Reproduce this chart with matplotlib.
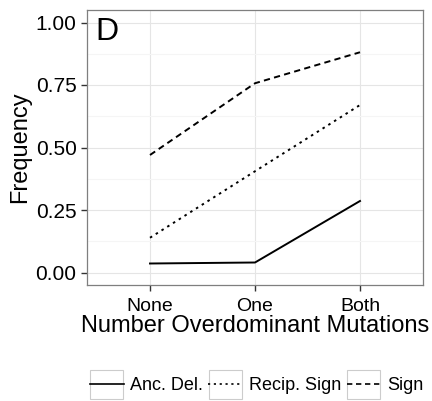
import matplotlib
matplotlib.use("Agg")
import matplotlib.pyplot as plt
from matplotlib.patches import Rectangle

plt.rcParams['font.family'] = ['Liberation Sans', 'DejaVu Sans']

# data
categories = ["None", "One", "Both"]
anc_del = [0.036, 0.040, 0.286]
recip_sign = [0.139, 0.405, 0.670]
sign = [0.470, 0.757, 0.881]
series_names = ["Anc. Del.", "Recip. Sign", "Sign"]

fig = plt.figure(figsize=(4.32, 4.01), dpi=100)
ax = fig.add_axes([87/432, 1-285/401, 336/432, 275/401])

x = range(1, len(categories) + 1)
h1, = ax.plot(x, anc_del, color='black', lw=1.4, linestyle='-')
h2, = ax.plot(x, recip_sign, color='black', lw=1.4, linestyle=(0, (1.3, 2.2)))
h3, = ax.plot(x, sign, color='black', lw=1.4, linestyle=(0, (3.2, 2.2)))

ax.set_xlim(0.4, 3.6)
ax.set_ylim(-0.05, 1.05)
ax.set_xticks(list(x))
ax.set_xticklabels(categories)
ax.set_yticks([0, 0.25, 0.5, 0.75, 1.0])
ax.set_yticklabels(["0.00", "0.25", "0.50", "0.75", "1.00"])
ax.set_yticks([0.125, 0.375, 0.625, 0.875], minor=True)
ax.grid(which='major', color='#e5e5e5', lw=0.8)
ax.grid(which='minor', axis='y', color='#f5f5f5', lw=0.8)
ax.set_axisbelow(True)
for s in ax.spines.values():
    s.set_color('#7f7f7f')
    s.set_linewidth(0.9)
ax.tick_params(which='major', length=4.5, width=1, color='#333333', labelcolor='black')
ax.tick_params(axis='y', labelsize=15, pad=3)
ax.tick_params(axis='x', labelsize=14, pad=5)
ax.tick_params(which='minor', length=0)

ax.set_xlabel("Number Overdominant Mutations", fontsize=17, labelpad=0)
ax.set_ylabel("Frequency", fontsize=17, labelpad=3)
ax.text(0.025, 0.975, "D", transform=ax.transAxes, fontsize=23, va='top', ha='left')

leg = fig.legend([h1, h2, h3], series_names, loc='center', bbox_to_anchor=(0.594, 1-386/401),
                 ncol=3, frameon=False, fontsize=13, handlelength=1.9, handletextpad=0.35,
                 columnspacing=0.3, borderaxespad=0)
for hl in leg.legend_handles:
    hl.set_linewidth(1.2)

# grey boxes around legend keys, like ggplot
fig.canvas.draw()
for hl in leg.legend_handles:
    bb = hl.get_window_extent()
    cx = (bb.x0 + bb.x1) / 2
    cy = (bb.y0 + bb.y1) / 2
    w, hgt = 33, 29
    fig.add_artist(Rectangle(((cx - w/2)/432, (cy - hgt/2)/401), w/432, hgt/401,
                             transform=fig.transFigure, fill=False, edgecolor='#cccccc', lw=0.8))

fig.savefig("out.png", dpi=100)
